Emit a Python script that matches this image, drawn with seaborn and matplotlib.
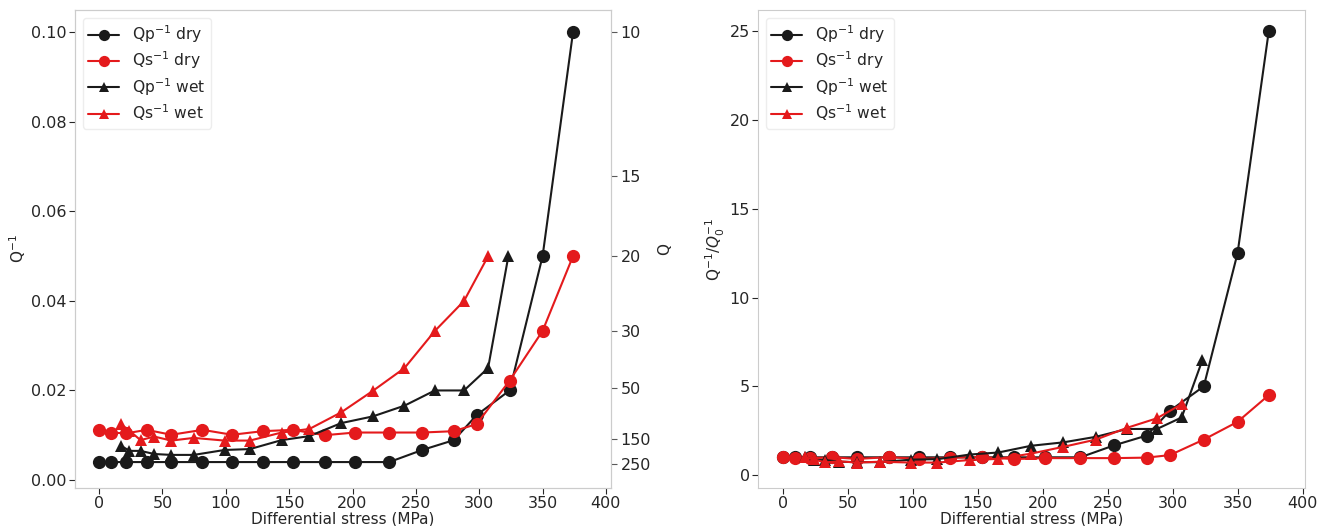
import numpy as np
import pandas as pd
import seaborn as sns
import matplotlib.pyplot as plt

# differential stress (MPa)
stress_dry = [0, 9.6, 21, 37.5, 57, 81.6, 105, 129, 153, 178, 202, 229, 255, 280, 298, 324, 350, 374]
stress_wet = [17, 24, 32.7, 43.5, 57, 74.7, 99, 119, 144, 166, 191, 216, 241, 265, 288, 307, 323]
stress_swet = [17, 24, 32.7, 43.5, 57, 74.7, 99, 119, 144, 166, 191, 216, 241, 265, 288, 307]

# attenuation Q^-1
qp_dry = [0.0040, 0.0040, 0.0040, 0.0040, 0.0040, 0.0040, 0.0040, 0.0040, 0.0040, 0.0040,
          0.0040, 0.0040, 0.0067, 0.0089, 0.0145, 0.0200, 0.0500, 0.1000]
qs_dry = [0.0111, 0.0106, 0.0104, 0.0112, 0.0101, 0.0112, 0.0101, 0.0109, 0.0112, 0.0100,
          0.0106, 0.0106, 0.0106, 0.0109, 0.0125, 0.0222, 0.0333, 0.0500]
qp_wet = [0.0077, 0.0065, 0.0065, 0.0058, 0.0056, 0.0056, 0.0067, 0.0069, 0.0089, 0.0098,
          0.0127, 0.0142, 0.0166, 0.0200, 0.0200, 0.0250, 0.0500]
qs_wet = [0.0125, 0.0110, 0.0089, 0.0097, 0.0088, 0.0094, 0.0088, 0.0088, 0.0106, 0.0114,
          0.0151, 0.0199, 0.0250, 0.0333, 0.0400, 0.0500]

# quality factor axis (labels as printed, positions in Q^-1)
q_labels = ['10', '15', '20', '30', '50', '150', '250']
q_pos = [0.1, 0.068, 0.05, 0.0333, 0.0205, 0.0092, 0.0036]

sns.set_style('ticks', {'axes.edgecolor': '.8', 'xtick.color': '.15', 'ytick.color': '.15'})
plt.rcParams['font.family'] = ['DejaVu Sans']
plt.rcParams['font.size'] = 11.5

black = '#1a1a1a'
red = '#e41a1c'

series = [
    ('Qp$^{-1}$ dry', stress_dry, qp_dry, black, 'o'),
    ('Qs$^{-1}$ dry', stress_dry, qs_dry, red, 'o'),
    ('Qp$^{-1}$ wet', stress_wet, qp_wet, black, '^'),
    ('Qs$^{-1}$ wet', stress_swet, qs_wet, red, '^'),
]

fig = plt.figure(figsize=(13.3, 5.26), dpi=100)
ax1 = fig.add_axes([0.0564, 0.0722, 0.403, 0.9087])
ax2 = fig.add_axes([0.570, 0.0722, 0.4113, 0.9087])

for lab, x, y, c, m in series:
    ms = 9.5 if m == 'o' else 9
    sns.lineplot(x=x, y=y, ax=ax1, color=c, marker=m, markersize=ms, mec=c, mew=0,
                 lw=1.5, label=lab)
    y = np.asarray(y)
    sns.lineplot(x=x, y=y / y[0], ax=ax2, color=c, marker=m, markersize=ms, mec=c, mew=0,
                 lw=1.5, label=lab)

ax1.set_xlim(-19, 404)
ax1.set_ylim(-0.0018, 0.105)
ax1.set_yticks([0.0, 0.02, 0.04, 0.06, 0.08, 0.10])
ax1.set_xlabel('Differential stress (MPa)', fontsize=11, labelpad=0)
ax1.set_ylabel('Q$^{-1}$', fontsize=11, labelpad=2)
ax1.set_xticks(range(0, 401, 50))

ax1r = ax1.twinx()
ax1r.set_ylim(ax1.get_ylim())
ax1r.set_yticks(q_pos)
ax1r.set_yticklabels(q_labels)
ax1r.set_ylabel('Q', fontsize=11)
ax1r.tick_params(axis='y', colors='.35', labelcolor='.15', labelsize=11.5, length=4, pad=3)

ax2.set_xlim(-19, 402)
ax2.set_ylim(-0.73, 26.2)
ax2.set_yticks([0, 5, 10, 15, 20, 25])
ax2.set_xticks(range(0, 401, 50))
ax2.set_xlabel('Differential stress (MPa)', fontsize=11, labelpad=0)
ax2.set_ylabel('Q$^{-1}$/$Q_0^{-1}$', fontsize=11, labelpad=2)

for ax in (ax1, ax2):
    ax.tick_params(labelsize=11.5, length=4, pad=2)
    for s in ax.spines.values():
        s.set_visible(True)
        s.set_color('.8')
    ax.legend(loc='upper left', fontsize=11.2, handlelength=2.0, borderpad=0.35,
              labelspacing=0.3, markerscale=0.85, framealpha=1, edgecolor='.93')

fig.savefig('out.png', dpi=100)
